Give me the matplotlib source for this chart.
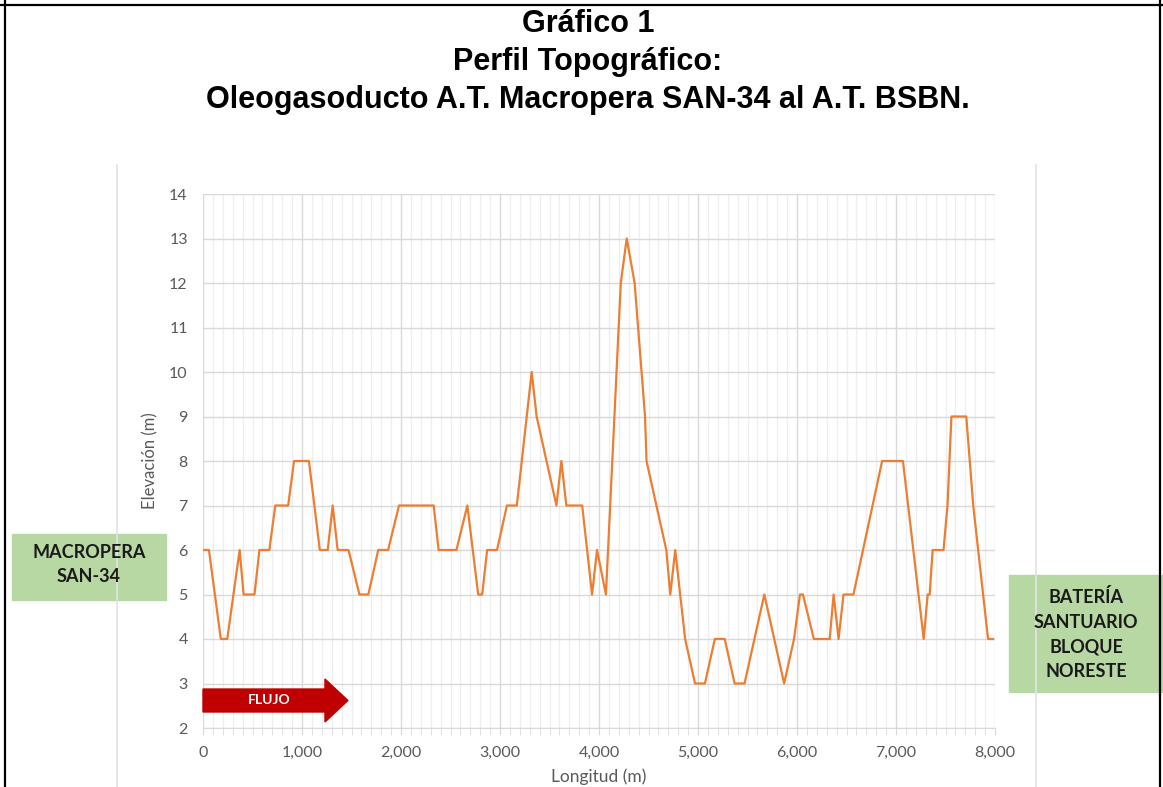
import matplotlib.pyplot as plt
from matplotlib.patches import Rectangle, FancyArrow
from matplotlib.lines import Line2D
from matplotlib.ticker import MultipleLocator, FuncFormatter

# datos del perfil (longitud en m, elevacion en m)
longitud = [0, 60, 180, 245, 370, 410, 520, 570, 670, 730, 860, 920, 1070,
            1180, 1260, 1310, 1360, 1470, 1580, 1670, 1770, 1870, 1980, 2330,
            2380, 2560, 2670, 2780, 2820, 2870, 2970, 3070, 3170, 3220, 3320,
            3370, 3570, 3620, 3670, 3830, 3930, 3980, 4070, 4220, 4280, 4360,
            4465, 4480, 4680, 4720, 4770, 4870, 4970, 5070, 5170, 5270, 5370,
            5470, 5670, 5870, 5970, 6030, 6060, 6170, 6330, 6370, 6420, 6470,
            6570, 6860, 7070, 7280, 7320, 7340, 7370, 7480, 7520, 7540, 7560,
            7710, 7780, 7930, 7980]
elevacion = [6, 6, 4, 4, 6, 5, 5, 6, 6, 7, 7, 8, 8,
             6, 6, 7, 6, 6, 5, 5, 6, 6, 7, 7,
             6, 6, 7, 5, 5, 6, 6, 7, 7, 8, 10,
             9, 7, 8, 7, 7, 5, 6, 5, 12, 13, 12,
             9, 8, 6, 5, 6, 4, 3, 3, 4, 4, 3,
             3, 5, 3, 4, 5, 5, 4, 4, 5, 4, 5,
             5, 8, 8, 4, 5, 5, 6, 6, 7, 8, 9,
             9, 7, 4, 4]

titulo = "Gráfico 1\nPerfil Topográfico:\nOleogasoducto A.T. Macropera SAN-34 al A.T. BSBN."
inicio = "MACROPERA\nSAN-34"
fin = "BATERÍA\nSANTUARIO\nBLOQUE\nNORESTE"

W, H = 1163, 787
fig = plt.figure(figsize=(W / 100, H / 100), dpi=100)
fig.patch.set_facecolor("white")

# lineas del marco de la imagen
for xs, ys in [([0, 1], [1 - 5 / H] * 2), ([5 / W] * 2, [0, 1]), ([1160 / W] * 2, [0, 1])]:
    fig.add_artist(Line2D(xs, ys, color="black", lw=1.6, transform=fig.transFigure))
# bordes grises del area del grafico
for px in (117, 1036):
    fig.add_artist(Line2D([px / W] * 2, [0, 1 - 165 / H], color="#e3e3e3", lw=1.2,
                          transform=fig.transFigure))

fig.text(588 / W, 1 - 9 / H, titulo, ha="center", va="top", fontsize=22,
         fontweight="bold", linespacing=1.34,
         family=["Liberation Sans Narrow", "Liberation Sans", "DejaVu Sans"])

ax = fig.add_axes([203 / W, 1 - 728 / H, 792 / W, 534 / H])
ax.plot(longitud, elevacion, color="#ED7D31", lw=1.6, zorder=3)

ax.set_xlim(0, 8000)
ax.set_ylim(2, 14)
ax.xaxis.set_major_locator(MultipleLocator(1000))
ax.xaxis.set_minor_locator(MultipleLocator(100))
ax.yaxis.set_major_locator(MultipleLocator(1))
ax.xaxis.set_major_formatter(FuncFormatter(lambda v, p: f"{int(v):,}"))
ax.grid(True, which="major", color="#d9d9d9", lw=1.0)
ax.grid(True, which="minor", axis="x", color="#eeeeee", lw=0.9)
ax.set_axisbelow(True)

for s in ("top", "right", "left"):
    ax.spines[s].set_visible(False)
ax.spines["bottom"].set_color("#d9d9d9")
ax.tick_params(axis="y", length=0, pad=11, labelsize=11.5, labelcolor="#595959")
ax.tick_params(axis="x", which="major", length=5, color="#d9d9d9", pad=8,
               labelsize=11.5, labelcolor="#595959")
ax.tick_params(axis="x", which="minor", length=5, color="#d9d9d9")
for lab in ax.get_xticklabels() + ax.get_yticklabels():
    lab.set_family("Lato")

ax.set_ylabel("Elevación (m)", fontsize=12, color="#595959", family="Lato", labelpad=8)
ax.set_xlabel("Longitud (m)", fontsize=12.5, color="#595959", family="Lato", labelpad=6)

# flecha de flujo
ax.add_patch(FancyArrow(0, 0.0515, 0.183, 0, width=0.043, head_width=0.0805,
                        head_length=0.029, length_includes_head=True,
                        color="#C00000", transform=ax.transAxes, zorder=4,
                        clip_on=False))
ax.text(0.084, 0.0515, "FLUJO", transform=ax.transAxes, ha="center", va="center",
        color="white", fontsize=10, fontweight="bold", family="Lato", zorder=5)

# cajas de inicio y fin
fig.patches.append(Rectangle((12 / W, 1 - 600 / H), 154 / W, 66 / H, color="#b7d7a3",
                             transform=fig.transFigure, zorder=1))
fig.text(89 / W, 1 - 564 / H, inicio, ha="center", va="center", fontsize=13,
         fontweight="bold", family="Lato", color="#1a1a1a", linespacing=1.5)
fig.patches.append(Rectangle((1009 / W, 1 - 692 / H), 154 / W, 117 / H, color="#b7d7a3",
                             transform=fig.transFigure, zorder=1))
fig.text(1086 / W, 1 - 634 / H, fin, ha="center", va="center", fontsize=13,
         fontweight="bold", family="Lato", color="#1a1a1a", linespacing=1.55)

fig.savefig("out.png", dpi=100)
